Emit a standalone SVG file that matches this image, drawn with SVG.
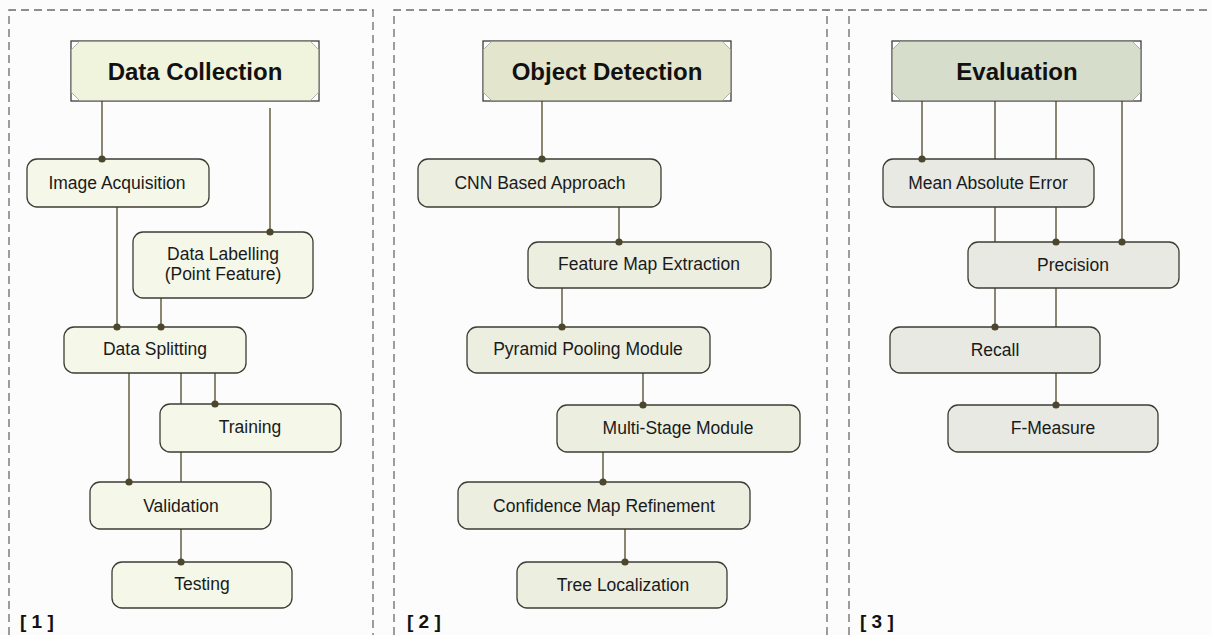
<svg xmlns="http://www.w3.org/2000/svg" width="1212" height="635" viewBox="0 0 1212 635">
<defs>
<style>
.bg{fill:#fcfcfc}
.panel{fill:none;stroke:#6a6a6a;stroke-width:1.3;stroke-dasharray:8 5}
.title-frame{fill:#ffffff;stroke:#3c3c38;stroke-width:1.3}
.corner{stroke:#a0a0a0;stroke-width:0.8}
.node{stroke:#3c3c34;stroke-width:1.3}
.n1{fill:#f5f7e8}
.n2{fill:#eceee0}
.n3{fill:#e7e9e2}
.conn line{stroke:#6c684f;stroke-width:1.6}
.dots circle{fill:#4b462c}
.t{font-family:"Liberation Sans",Arial,sans-serif;font-size:17.5px;fill:#1a1a1a;text-anchor:middle}
.tt{font-family:"Liberation Sans",Arial,sans-serif;font-size:24px;font-weight:bold;fill:#111;text-anchor:middle}
.lbl{font-family:"Liberation Sans",Arial,sans-serif;font-size:19px;font-weight:bold;fill:#111}
</style>
</defs>
<rect class="bg" x="0" y="0" width="1212" height="635"/>

<g id="panels">
<path class="panel" d="M9,635 V10 H373 V635"/>
<path class="panel" d="M394,635 V10 H1212"/>
<path class="panel" d="M827,635 V10"/>
<path class="panel" d="M849,635 V10"/>
</g>

<g class="conn" id="connectors">
<line x1="102" y1="101" x2="102" y2="159"/>
<line x1="270" y1="108" x2="270" y2="232"/>
<line x1="117" y1="207" x2="117" y2="327"/>
<line x1="161" y1="298" x2="161" y2="327"/>
<line x1="129" y1="373" x2="129" y2="482"/>
<line x1="181" y1="373" x2="181" y2="562"/>
<line x1="215" y1="373" x2="215" y2="404"/>
<line x1="542" y1="101" x2="542" y2="159"/>
<line x1="619" y1="207" x2="619" y2="242"/>
<line x1="562" y1="288" x2="562" y2="327"/>
<line x1="643" y1="373" x2="643" y2="405"/>
<line x1="603" y1="452" x2="603" y2="482"/>
<line x1="625" y1="529" x2="625" y2="562"/>
<line x1="922" y1="101" x2="922" y2="159"/>
<line x1="995" y1="101" x2="995" y2="327"/>
<line x1="1056" y1="101" x2="1056" y2="242"/>
<line x1="1122" y1="101" x2="1122" y2="242"/>
<line x1="1056" y1="288" x2="1056" y2="405"/>
</g>

<!-- Panel 1 -->
<g id="title-data-collection">
<rect class="title-frame" x="71" y="41" width="248" height="60"/>
<polygon fill="#f1f4dd" points="79,41.7 311,41.7 318.3,49 318.3,93 311,100.3 79,100.3 71.7,93 71.7,49"/>
<path class="corner" d="M79,42 L72,49 M311,42 L318,49 M311,100 L318,93 M79,100 L72,93"/>
<text class="tt" x="195" y="80">Data Collection</text>
</g>
<g id="node-image-acquisition">
<rect class="node n1" x="27" y="159" width="182" height="48" rx="10"/>
<text class="t" x="117" y="189">Image Acquisition</text>
</g>
<g id="node-data-labelling">
<rect class="node n1" x="133" y="232" width="180" height="66" rx="10"/>
<text class="t" x="223" y="260">Data Labelling</text>
<text class="t" x="223" y="280">(Point Feature)</text>
</g>
<g id="node-data-splitting">
<rect class="node n1" x="64" y="327" width="182" height="46" rx="10"/>
<text class="t" x="155" y="355">Data Splitting</text>
</g>
<g id="node-training">
<rect class="node n1" x="160" y="404" width="181" height="48" rx="10"/>
<text class="t" x="250" y="433">Training</text>
</g>
<g id="node-validation">
<rect class="node n1" x="90" y="482" width="181" height="47" rx="10"/>
<text class="t" x="181" y="512">Validation</text>
</g>
<g id="node-testing">
<rect class="node n1" x="112" y="562" width="180" height="46" rx="10"/>
<text class="t" x="202" y="590">Testing</text>
</g>
<text class="lbl" x="20" y="628">[ 1 ]</text>

<!-- Panel 2 -->
<g id="title-object-detection">
<rect class="title-frame" x="483" y="41" width="248" height="60"/>
<polygon fill="#e3e5cd" points="491,41.7 723,41.7 730.3,49 730.3,93 723,100.3 491,100.3 483.7,93 483.7,49"/>
<path class="corner" d="M491,42 L484,49 M723,42 L730,49 M723,100 L730,93 M491,100 L484,93"/>
<text class="tt" x="607" y="80">Object Detection</text>
</g>
<g id="node-cnn">
<rect class="node n2" x="418" y="159" width="243" height="48" rx="10"/>
<text class="t" x="540" y="189">CNN Based Approach</text>
</g>
<g id="node-feature-map">
<rect class="node n2" x="528" y="242" width="243" height="46" rx="10"/>
<text class="t" x="649" y="270">Feature Map Extraction</text>
</g>
<g id="node-ppm">
<rect class="node n2" x="467" y="327" width="243" height="46" rx="10"/>
<text class="t" x="588" y="355">Pyramid Pooling Module</text>
</g>
<g id="node-multistage">
<rect class="node n2" x="557" y="405" width="243" height="47" rx="10"/>
<text class="t" x="678" y="434">Multi-Stage Module</text>
</g>
<g id="node-confidence">
<rect class="node n2" x="458" y="482" width="292" height="47" rx="10"/>
<text class="t" x="604" y="512">Confidence Map Refinement</text>
</g>
<g id="node-tree">
<rect class="node n2" x="517" y="562" width="210" height="46" rx="10"/>
<text class="t" x="623" y="591">Tree Localization</text>
</g>
<text class="lbl" x="407" y="628">[ 2 ]</text>

<!-- Panel 3 -->
<g id="title-evaluation">
<rect class="title-frame" x="892" y="41" width="249" height="60"/>
<polygon fill="#d6ddcb" points="900,41.7 1133,41.7 1140.3,49 1140.3,93 1133,100.3 900,100.3 892.7,93 892.7,49"/>
<path class="corner" d="M900,42 L893,49 M1133,42 L1140,49 M1133,100 L1140,93 M900,100 L893,93"/>
<text class="tt" x="1017" y="80">Evaluation</text>
</g>
<g id="node-mae">
<rect class="node n3" x="883" y="159" width="211" height="48" rx="10"/>
<text class="t" x="988" y="189">Mean Absolute Error</text>
</g>
<g id="node-precision">
<rect class="node n3" x="968" y="242" width="211" height="46" rx="10"/>
<text class="t" x="1073" y="271">Precision</text>
</g>
<g id="node-recall">
<rect class="node n3" x="890" y="327" width="210" height="46" rx="10"/>
<text class="t" x="995" y="356">Recall</text>
</g>
<g id="node-fmeasure">
<rect class="node n3" x="948" y="405" width="210" height="47" rx="10"/>
<text class="t" x="1053" y="434">F-Measure</text>
</g>
<text class="lbl" x="860" y="628">[ 3 ]</text>

<g class="dots" id="connector-ends">
<circle cx="102" cy="159" r="3.6"/>
<circle cx="270" cy="232" r="3.6"/>
<circle cx="117" cy="327" r="3.6"/>
<circle cx="161" cy="327" r="3.6"/>
<circle cx="129" cy="482" r="3.6"/>
<circle cx="181" cy="562" r="3.6"/>
<circle cx="215" cy="404" r="3.6"/>
<circle cx="542" cy="159" r="3.6"/>
<circle cx="619" cy="242" r="3.6"/>
<circle cx="562" cy="327" r="3.6"/>
<circle cx="643" cy="405" r="3.6"/>
<circle cx="603" cy="482" r="3.6"/>
<circle cx="625" cy="562" r="3.6"/>
<circle cx="922" cy="159" r="3.6"/>
<circle cx="995" cy="327" r="3.6"/>
<circle cx="1056" cy="242" r="3.6"/>
<circle cx="1122" cy="242" r="3.6"/>
<circle cx="1056" cy="405" r="3.6"/>
</g>
</svg>
